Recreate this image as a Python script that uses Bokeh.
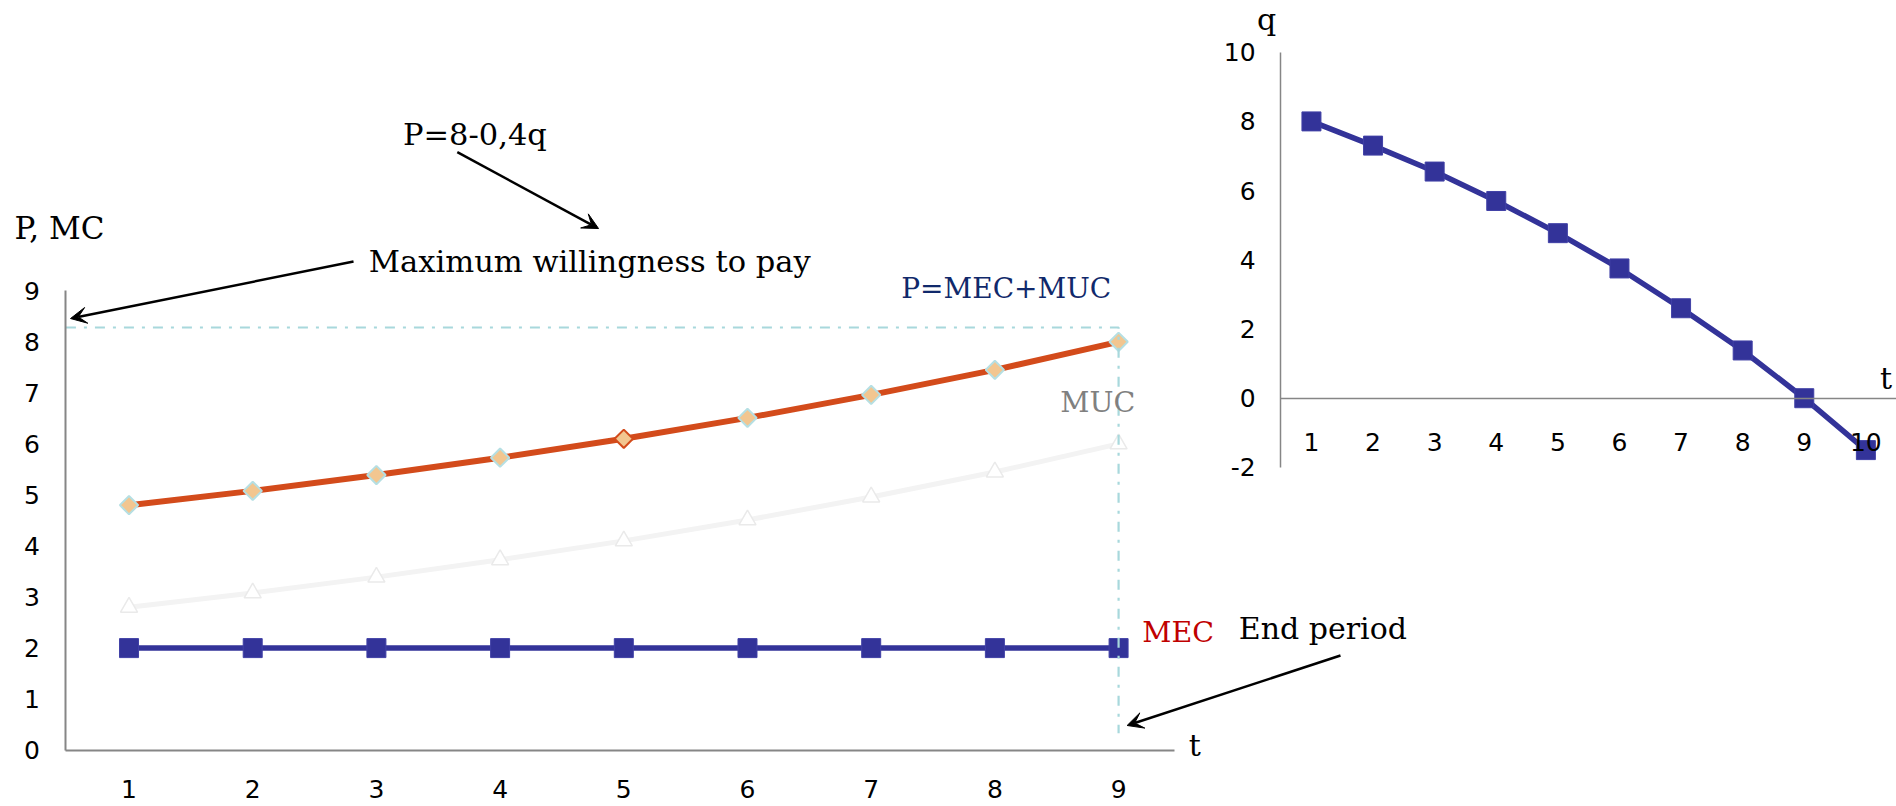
import math

from bokeh.embed import file_html
from bokeh.models import (Arrow, ColumnDataSource, FixedTicker, Label,
                          LinearAxis, PrintfTickFormatter, Range1d, VeeHead)
from bokeh.plotting import figure
from bokeh.resources import INLINE

# ---- data -------------------------------------------------------------
periods = [1, 2, 3, 4, 5, 6, 7, 8, 9]
price = [4.80, 5.08, 5.39, 5.73, 6.10, 6.51, 6.96, 7.45, 8.00]   # P = MEC + MUC
muc = [2.80, 3.08, 3.39, 3.73, 4.10, 4.51, 4.96, 5.45, 6.00]     # marginal user cost
mec = [2, 2, 2, 2, 2, 2, 2, 2, 2]                                 # marginal extraction cost

q_periods = [1, 2, 3, 4, 5, 6, 7, 8, 9, 10]
quantity = [8.00, 7.30, 6.55, 5.70, 4.77, 3.75, 2.60, 1.38, 0.00, -1.50]

price_ticks = [0, 1, 2, 3, 4, 5, 6, 7, 8, 9]
q_ticks = [-2, 0, 2, 4, 6, 8, 10]

max_wtp = 8.28        # choke price level
end_period = 9        # last extraction period
guide_floor = 0.33    # where the end-period guide stops

# ---- styling ----------------------------------------------------------
SERIF = "DejaVu Serif"
SANS = "DejaVu Sans"
BLUE = "#333399"
ORANGE = "#D34B1B"
GUIDE = "#A8D8DC"

W, H = 1896, 806

p = figure(width=W, height=H,
           x_range=Range1d(-0.039, 15.289), y_range=Range1d(-1.103, 14.686),
           x_axis_type=None, y_axis_type=None,
           toolbar_location=None, output_backend="svg",
           min_border=0, outline_line_color=None,
           background_fill_color="white", border_fill_color="white")
p.extra_x_ranges = {"qt": Range1d(-20.28, 10.497)}
p.extra_y_ranges = {"q": Range1d(-11.80, 11.494)}


def style_axis(ax, standoff, width=2):
    ax.axis_line_color = "#868686"
    ax.axis_line_width = width
    ax.major_tick_line_color = None
    ax.minor_tick_line_color = None
    ax.major_tick_in = 0
    ax.major_tick_out = 0
    ax.formatter = PrintfTickFormatter(format="%d")
    ax.major_label_text_font = SANS
    ax.major_label_text_font_size = "25px"
    ax.major_label_text_color = "#000000"
    ax.major_label_standoff = standoff


# left panel axes
y_left = LinearAxis(ticker=FixedTicker(ticks=price_ticks), fixed_location=0.49, bounds=(0, 9))
style_axis(y_left, 26)
p.add_layout(y_left, "left")

x_left = LinearAxis(ticker=FixedTicker(ticks=periods), fixed_location=0, bounds=(0.49, 9.45))
style_axis(x_left, 30)
p.add_layout(x_left, "below")

# right panel axes
y_right = LinearAxis(ticker=FixedTicker(ticks=q_ticks), fixed_location=0.5, bounds=(-2, 10),
                     x_range_name="qt", y_range_name="q")
style_axis(y_right, 25, 1.5)
p.add_layout(y_right, "left")

x_right = LinearAxis(ticker=FixedTicker(ticks=q_periods), fixed_location=0, bounds=(0.5, 10.6),
                     x_range_name="qt", y_range_name="q")
style_axis(x_right, 35, 1.5)
p.add_layout(x_right, "below")

# ---- left panel series -----------------------------------------------
p.line(periods, muc, line_color="#F3F3F3", line_width=5)
p.scatter(periods, muc, marker="triangle", size=17, fill_color="white",
          line_color="#EAEAEA", line_width=1.5)

price_src = ColumnDataSource(dict(
    t=periods, v=price,
    edge=["#B5DFE3", "#B5DFE3", "#B5DFE3", "#B5DFE3", ORANGE,
          "#B5DFE3", "#B5DFE3", "#B5DFE3", "#B5DFE3"]))
p.line(periods, price, line_color=ORANGE, line_width=6)
p.scatter("t", "v", source=price_src, marker="square", angle=math.pi / 4, size=13,
          fill_color="#F2C690", line_color="edge", line_width=2)

p.line(periods, mec, line_color=BLUE, line_width=5.5)
p.scatter(periods, mec, marker="square", size=19, fill_color=BLUE, line_color="#4040A6",
          line_width=1)

# dash-dot guide: choke price across, end period down
p.line([0.49, end_period, end_period], [max_wtp, max_wtp, guide_floor],
       line_color=GUIDE, line_width=2.2, line_dash="10 8 3 8")

# ---- right panel series ----------------------------------------------
p.line(q_periods, quantity, line_color=BLUE, line_width=5.5,
       x_range_name="qt", y_range_name="q")
p.scatter(q_periods, quantity, marker="square", size=19, fill_color=BLUE,
          line_color="#4040A6", line_width=1, x_range_name="qt", y_range_name="q")

# ---- texts ------------------------------------------------------------
def label(x, y, text, color="black", size="28px", **kw):
    p.add_layout(Label(x=x, y=y, text=text, text_font=SERIF, text_font_size=size,
                       text_color=color, text_align="left",
                       text_baseline="alphabetic", **kw))


label(3.215, 12.06, "P=8-0,4q", size="30.5px")
label(0.075, 10.22, "P, MC", size="31px")
label(2.939, 9.58, "Maximum willingness to pay", size="30.5px")
label(7.243, 9.04, "P=MEC+MUC", color="#10296B", size="28px")
label(8.529, 6.82, "MUC", color="#808080", size="28.5px")
label(9.191, 2.30, "MEC", color="#C00000", size="28.5px")
label(9.972, 2.38, "End period", size="30px")
label(9.567, 0.10, "t", size="30px")
label(0.117, 10.95, "q", size="30px", x_range_name="qt", y_range_name="q")
label(10.229, 0.56, "t", size="30px", x_range_name="qt", y_range_name="q")


def arrow(x0, y0, x1, y1):
    p.add_layout(Arrow(x_start=x0, y_start=y0, x_end=x1, y_end=y1,
                       line_color="black", line_width=2.5,
                       end=VeeHead(size=16, fill_color="black", line_color="black")))


arrow(3.654, 11.714, 4.796, 10.219)
arrow(2.815, 9.573, 0.527, 8.456)
arrow(10.794, 1.855, 9.069, 0.484)

open("out.html", "w").write(file_html(p, INLINE))
